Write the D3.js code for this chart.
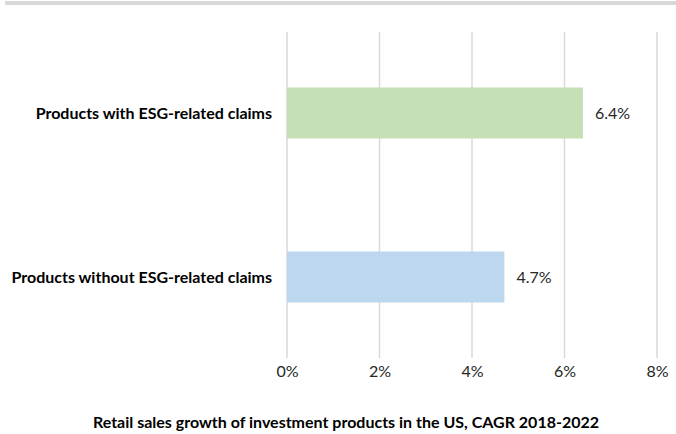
<!DOCTYPE html>
<html>
<head>
<meta charset="utf-8">
<script src="https://cdn.jsdelivr.net/npm/d3@7"></script>
<style>
  html, body { margin: 0; padding: 0; background: #fff; }
  svg { display: block; font-family: Lato, "Open Sans", sans-serif; }
</style>
</head>
<body>
<svg id="chart" width="676" height="434"></svg>
<script>
// Retail sales growth (CAGR 2018-2022), percent
const categories = ["Products with ESG-related claims", "Products without ESG-related claims"];
const values = [6.4, 4.7];
const barColors = ["#c5e0b4", "#bdd7ee"];
const tickValues = [0, 2, 4, 6, 8];
const axisTitle = "Retail sales growth of investment products in the US, CAGR 2018-2022";

const svg = d3.select("#chart");
const W = 676, H = 434;
const plot = { left: 287, right: 657, top: 32, bottom: 358 };

// frame band along the top
svg.append("rect")
  .attr("x", 5).attr("y", 1).attr("width", W - 5).attr("height", 4)
  .attr("fill", "#d9d9d9");

const x = d3.scaleLinear().domain([0, 8]).range([plot.left, plot.right]);
const y = d3.scaleBand().domain(categories)
  .range([plot.top, plot.bottom])
  .paddingInner(0.689).paddingOuter(0.3385);

// vertical gridlines
svg.append("g")
  .selectAll("line")
  .data(tickValues)
  .join("line")
  .attr("x1", d => x(d)).attr("x2", d => x(d))
  .attr("y1", plot.top).attr("y2", plot.bottom)
  .attr("stroke", "#d9d9d9").attr("stroke-width", 1.5);

// bars
svg.append("g")
  .selectAll("rect")
  .data(categories)
  .join("rect")
  .attr("x", x(0))
  .attr("y", d => y(d))
  .attr("width", (d, i) => x(values[i]) - x(0))
  .attr("height", y.bandwidth())
  .attr("fill", (d, i) => barColors[i]);

// value labels
svg.append("g")
  .selectAll("text")
  .data(categories)
  .join("text")
  .attr("x", (d, i) => x(values[i]) + 12)
  .attr("y", d => y(d) + y.bandwidth() / 2)
  .attr("dy", "0.35em")
  .attr("font-size", 16)
  .attr("fill", "#262626")
  .text((d, i) => values[i].toFixed(1) + "%");

// category labels
svg.append("g")
  .selectAll("text")
  .data(categories)
  .join("text")
  .attr("x", 272)
  .attr("y", d => y(d) + y.bandwidth() / 2)
  .attr("dy", "0.35em")
  .attr("text-anchor", "end")
  .attr("font-size", 16)
  .attr("font-weight", "bold")
  .attr("fill", "#000")
  .text(d => d);

// x axis tick labels
const xAxis = d3.axisBottom(x)
  .tickValues(tickValues)
  .tickSize(0)
  .tickPadding(0)
  .tickFormat(d => d + "%");
const gx = svg.append("g")
  .attr("transform", `translate(0, ${plot.bottom + 8})`)
  .call(xAxis);
gx.select(".domain").remove();
gx.selectAll("text")
  .attr("font-family", "Lato, 'Open Sans', sans-serif")
  .attr("font-size", 16)
  .attr("fill", "#262626");

// axis title
svg.append("text")
  .attr("x", 346)
  .attr("y", 422)
  .attr("dy", "0.35em")
  .attr("text-anchor", "middle")
  .attr("font-size", 16)
  .attr("font-weight", "bold")
  .attr("fill", "#000")
  .text(axisTitle);
</script>
</body>
</html>
